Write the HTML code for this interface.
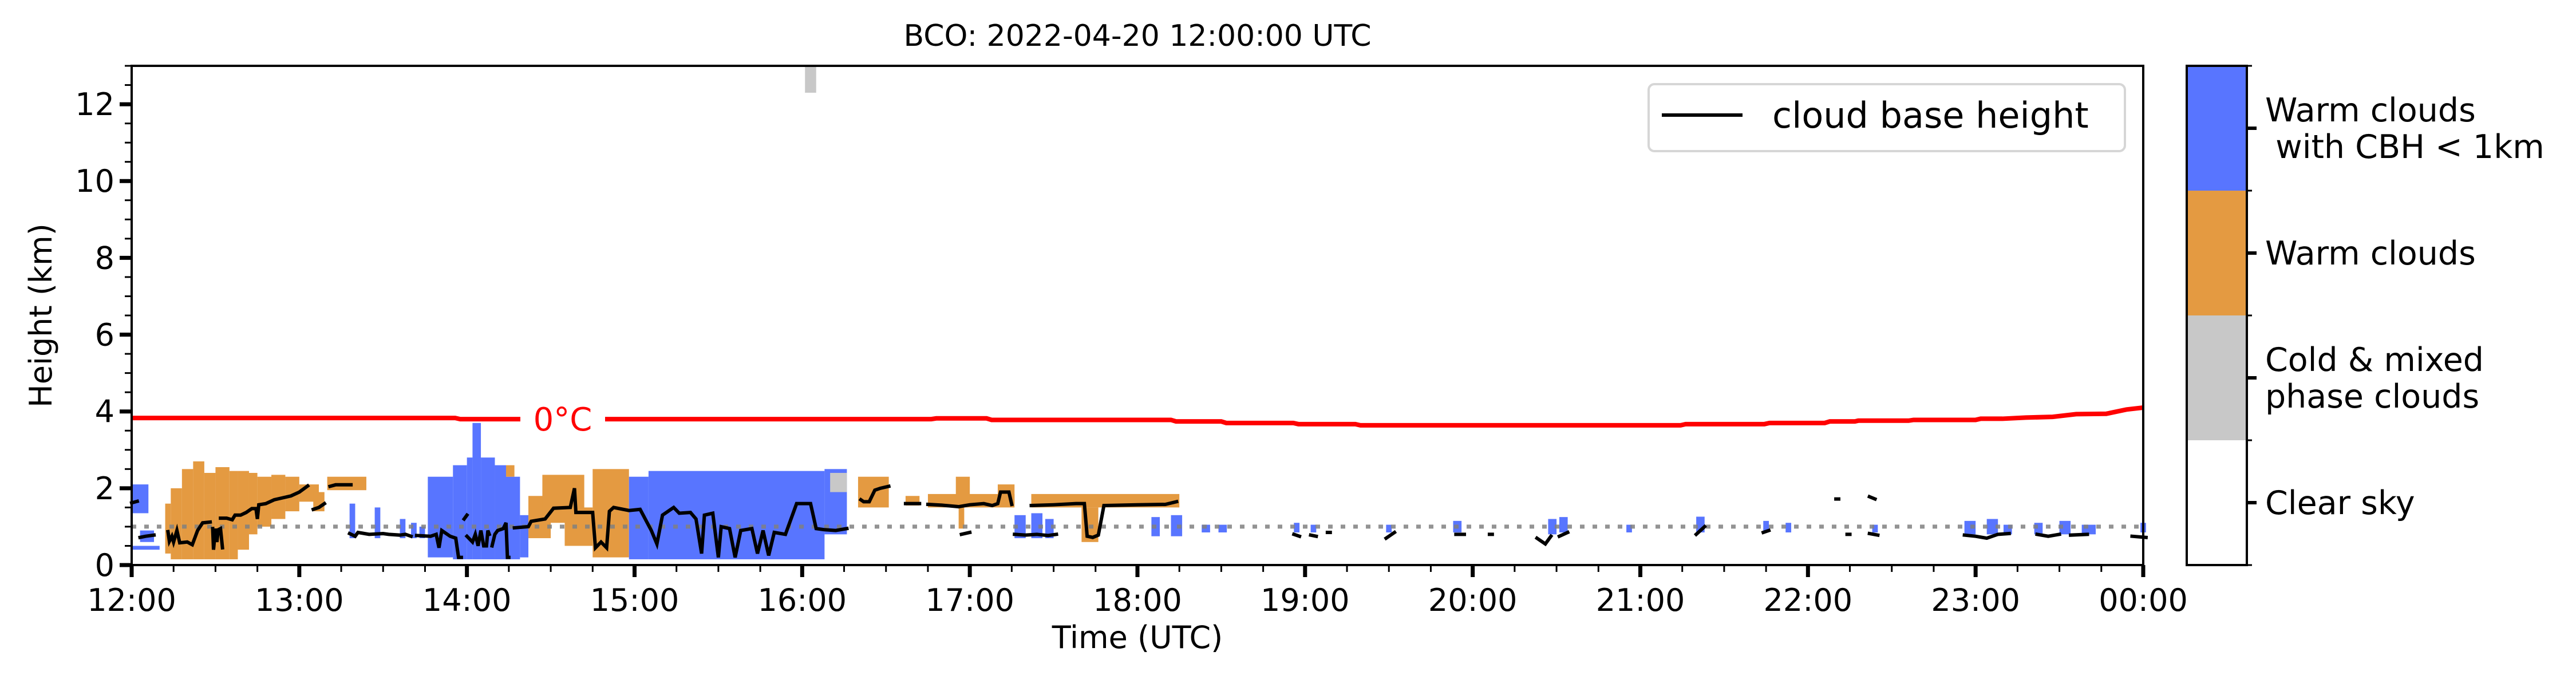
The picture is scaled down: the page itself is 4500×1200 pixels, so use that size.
<!DOCTYPE html>
<html><head><meta charset="utf-8"><title>BCO cloud classification</title>
<style>
html,body{margin:0;padding:0;background:#fff;}
svg{display:block;font-family:"DejaVu Sans","Liberation Sans",sans-serif;}
.pre{white-space:pre;}
</style></head>
<body>
<svg id="chart" width="4500" height="1200" viewBox="0 0 4500 1200" xmlns="http://www.w3.org/2000/svg">
<rect x="0" y="0" width="4500" height="1200" fill="#fff"/>
<text x="1987" y="80" font-size="52" text-anchor="middle">BCO: 2022-04-20 12:00:00 UTC</text>
<g id="plot"></g>
<g id="axes"></g>
<text x="90" y="551" font-size="54" text-anchor="middle" transform="rotate(-90 90 551)">Height (km)</text>
<text x="1987" y="1132" font-size="54" text-anchor="middle">Time (UTC)</text>
<g>
<rect x="2880" y="147" width="832" height="117" rx="10" fill="#fff" fill-opacity="0.8" stroke="#d6d6d6" stroke-width="4"/>
<line x1="2903" y1="201" x2="3044" y2="201" stroke="#000" stroke-width="6"/>
<text x="3096" y="223" font-size="62">cloud base height</text>
</g>
<g id="cbar"></g>
</svg>
<script>
// ---- data (time in minutes after 12:00 UTC, heights in km) ----
const cloudStart = [0,0,3,12,14,18,22,26,30,35,38,42,45,50,55,60,65,70,78,87,96,100,103,106,115,120,122,125,130,134,139,134,142,147,155,165,178,185,248,250,241,260,277,285,295,296,310,322,340,316,322,327,365,372,383,389,416,422,449,473,507,511,535,560,584,592,623,656,664,670,681,690,698,719];
const cloudEnd   = [6,10,8,14,18,22,26,30,35,38,42,45,50,55,60,67,69,84,80,89,98,102,105,115,120,122,125,130,134,139,142,137,150,162,165,178,185,248,256,256,245,271,282,316,300,298,316,375,346,320,326,330,368,376,386,392,418,424,451,476,510,514,537,563,586,594,625,660,668,673,684,694,703,721];
const cloudBase  = [1.35,0.4,0.6,0.3,0.15,0.15,0.15,0.15,0.15,0.15,0.4,0.8,1.0,1.2,1.4,1.65,1.4,1.95,0.7,0.7,0.7,0.7,0.7,0.2,0.15,0.15,0.15,0.15,0.15,0.15,0.2,2.3,0.7,1.1,0.5,0.2,0.15,0.15,0.8,1.9,12.3,1.5,1.55,1.5,1.7,0.95,1.6,1.5,0.6,0.7,0.7,0.7,0.75,0.75,0.85,0.85,0.85,0.85,0.85,0.85,0.8,0.85,0.85,0.85,0.85,0.85,0.85,0.8,0.8,0.8,0.8,0.8,0.8,0.85];
const cloudTop   = [2.1,0.5,0.9,1.6,2.0,2.5,2.7,2.4,2.55,2.45,2.45,2.4,2.3,2.35,2.3,2.1,1.9,2.3,1.6,1.5,1.2,1.1,1.0,2.3,2.6,2.8,3.7,2.8,2.6,2.3,1.3,2.6,1.8,2.35,1.5,2.5,2.3,2.45,2.5,2.4,13.0,2.3,1.8,1.85,2.3,1.5,2.1,1.85,1.5,1.3,1.35,1.2,1.25,1.3,1.05,1.05,1.1,1.05,1.05,1.15,1.2,1.25,1.05,1.26,1.15,1.1,1.05,1.15,1.2,1.05,1.1,1.15,1.05,1.1];
const cloudClass = ['b','b','b','o','o','o','o','o','o','o','o','o','o','o','o','o','o','o','b','b','b','b','b','b','b','b','b','b','b','b','b','o','o','o','o','o','b','b','b','g','g','o','o','o','o','o','o','o','o','b','b','b','b','b','b','b','b','b','b','b','b','b','b','b','b','b','b','b','b','b','b','b','b','b'];

const cbhTime = [0,2,null,3,5,8,null,13,13.5,14.4,15,16.2,17.2,19.9,21.7,23.6,25.4,28.1,null,29,29.3,30,30.5,31,31.8,32.5,null,
31.8,34,36,37,39,41,43,44.5,45,45.5,48,51,54,57,60,63,null,65,67,69,null,71,73,78.5,null,
78,80,81,85,90,92,96,98,100,null,102,107,109,110,111,114,116,117,118,null,119,120,null,
120,122,123,124,125,126,127,127.5,128,null,129,130,131,133,134,134.5,135,null,
137,142,143,148,151,157,158.5,159,165,166,168,170,171,172.5,178,182,186,188,190,194,196,200,202,204,205,208,210,211,214,216,218,222,224,226,228,230,234,238,243,245,248,252,256,null,
261,262,264,266,268,271,null,277,282,null,285,290,296,300,305,308,310,311,314,315,null,297,300,null,316,320,324,328,331,null,
322,330,338,341,342,344,346,348,360,370,374,null,
416,418,null,422,424,null,428,429,null,449,452,null,474,477,null,486,487,null,503,506,508,null,511,514,null,560,563,null,584,586,null,610,611,null,614,615,null,622,624,null,622,625,null,656,660,664,668,672,null,682,686,690,null,694,700,null,716,721];
const cbhHeight = [1.62,1.66,null,0.72,0.75,0.78,null,0.87,0.62,0.75,0.6,0.9,0.58,0.6,0.53,0.9,1.1,1.12,null,0.95,0.4,0.95,0.6,0.92,0.95,0.45,null,
1.22,1.22,1.18,1.3,1.3,1.37,1.47,1.47,1.2,1.57,1.6,1.7,1.75,1.8,1.9,2.06,null,1.45,1.5,1.6,null,2.05,2.09,2.09,null,
0.82,0.75,0.85,0.8,0.82,0.8,0.78,0.8,0.75,null,0.77,0.75,0.8,0.45,0.9,0.75,0.7,0.2,0.2,null,1.2,1.3,null,
0.75,0.6,0.8,0.5,0.9,0.5,0.5,0.9,0.8,null,0.5,0.8,0.9,0.95,1.1,0.2,0.2,null,
0.97,1.0,1.14,1.2,1.48,1.5,2.0,1.37,1.37,0.45,0.6,0.45,1.4,1.5,1.42,1.45,0.9,0.55,1.3,1.5,1.35,1.37,1.2,0.3,1.3,1.35,0.2,1.0,0.95,0.2,0.9,0.95,0.3,0.9,0.25,0.85,0.8,1.6,1.6,0.95,0.92,0.9,0.95,null,
1.7,1.65,1.65,1.95,2.0,2.05,null,1.6,1.6,null,1.58,1.56,1.52,1.57,1.6,1.55,1.6,1.9,1.9,1.58,null,0.8,0.85,null,0.8,0.78,0.8,0.77,0.8,null,
1.55,1.57,1.6,1.6,0.75,0.72,0.78,1.55,1.57,1.58,1.65,null,
0.8,0.75,null,0.78,0.75,null,0.85,0.85,null,0.7,0.85,null,0.8,0.8,null,0.8,0.8,null,0.7,0.55,0.75,null,0.75,0.85,null,0.8,1.0,null,0.85,0.9,null,1.72,1.72,null,0.8,0.8,null,1.78,1.72,null,0.82,0.78,null,0.78,0.75,0.7,0.8,0.82,null,0.8,0.75,0.8,null,0.78,0.8,null,0.75,0.72];

const freezeTime = [0,1.93,1.96,4.77,4.8,5.1,5.13,6.2,6.23,6.5,6.53,6.93,6.96,7.3,7.33,9.24,9.27,9.74,9.77,10.1,10.13,10.28,10.3,10.6,10.63,11.0,11.03,11.16,11.3,11.46,11.6,11.78,11.9,12];
const freezeHeight = [3.83,3.83,3.80,3.80,3.82,3.82,3.78,3.78,3.74,3.74,3.70,3.70,3.67,3.67,3.64,3.64,3.67,3.67,3.70,3.70,3.74,3.74,3.76,3.76,3.78,3.78,3.81,3.81,3.84,3.86,3.93,3.94,4.05,4.10];

const xTickLabels = ['12:00','13:00','14:00','15:00','16:00','17:00','18:00','19:00','20:00','21:00','22:00','23:00','00:00'];
const yTickValues = [0,2,4,6,8,10,12];
const cbarLabels = [['Clear sky'],['Cold & mixed','phase clouds'],['Warm clouds'],['Warm clouds',' with CBH < 1km']];
const cbarColors = ['#ffffff','#c8c8c8','#e49a41','#5875ff'];

// ---- axes ----
const X0=230, X1=3744, Y0=987, Y1=115, YMAX=13;
const xHour = h => X0 + h/12*(X1-X0);
const xMin = m => xHour(m/60);
const yKm = k => Y0 - k/YMAX*(Y0-Y1);
const NS='http://www.w3.org/2000/svg';
function mk(tag, attrs, parent){const e=document.createElementNS(NS,tag);for(const k in attrs)e.setAttribute(k,attrs[k]);parent.appendChild(e);return e;}
const plot=document.getElementById('plot'), axes=document.getElementById('axes'), cbar=document.getElementById('cbar');
const colorOf={b:'#5875ff',o:'#e49a41',g:'#c8c8c8'};

for(let i=0;i<cloudStart.length;i++){
  const r=mk('rect',{x:xMin(cloudStart[i]),y:yKm(cloudTop[i]),width:Math.max(2,xMin(cloudEnd[i])-xMin(cloudStart[i])),height:yKm(cloudBase[i])-yKm(cloudTop[i]),fill:colorOf[cloudClass[i]]},plot);
  
  
}
const dl=mk('line',{x1:X0,x2:X1,y1:yKm(1),y2:yKm(1),stroke:'#808080','stroke-width':7,'stroke-dasharray':'8 14','stroke-opacity':0.85},plot);


const labelGap=[909,1057];
const pts=[];
for(let i=0;i<freezeTime.length;i++){ pts.push(xHour(freezeTime[i])+','+yKm(freezeHeight[i])); }
const fr=mk('g',{},plot);


const clip=mk('clipPath',{id:'gapclip'},plot);
mk('rect',{x:X0,y:0,width:labelGap[0]-X0,height:1200},clip);
mk('rect',{x:labelGap[1],y:0,width:X1-labelGap[1],height:1200},clip);
const fp=mk('polyline',{points:pts.join(' '),fill:'none',stroke:'#ff0000','stroke-width':8,'clip-path':'url(#gapclip)'},fr);


const fl=mk('text',{x:(labelGap[0]+labelGap[1])/2,y:yKm(3.8)+20,'font-size':56,fill:'#ff0000','text-anchor':'middle'},plot);
fl.textContent='0°C';


let cur=[];
function flush(){ if(cur.length){ const pl=mk('polyline',{points:cur.join(' '),fill:'none',stroke:'#000','stroke-width':6,'stroke-linecap':'square'},plot);
  
   } cur=[]; }
for(let i=0;i<cbhTime.length;i++){
  if(cbhTime[i]===null){flush();continue;}
  cur.push(xMin(cbhTime[i])+','+yKm(cbhHeight[i]));
}
flush();

const fb=mk('rect',{x:X0,y:Y1,width:X1-X0,height:Y0-Y1,fill:'none',stroke:'#000','stroke-width':4},axes);


for(let q=0;q<=48;q++){
  const x=xHour(q/4), major=q%4===0;
  const t=mk('line',{x1:x,x2:x,y1:Y0,y2:Y0+(major?21:12),stroke:'#000','stroke-width':major?7:3},axes);
  
  
}
xTickLabels.forEach((lab,i)=>{
  const t=mk('text',{x:xHour(i),y:1067,'font-size':54,'text-anchor':'middle'},axes);
  t.textContent=lab;
  
  
});
for(let k=0;k<=26;k++){
  const y=yKm(k/2), major=k%4===0;
  const t=mk('line',{x1:X0-(major?21:12),x2:X0,y1:y,y2:y,stroke:'#000','stroke-width':major?7:3},axes);
  
  
}
yTickValues.forEach(v=>{
  const t=mk('text',{x:X0-30,y:yKm(v)+19,'font-size':54,'text-anchor':'end'},axes);
  t.textContent=String(v);
  
  
});

const CX0=3820, CX1=3925, bh=(Y0-Y1)/4;
cbarColors.forEach((c,i)=>{
  const r=mk('rect',{x:CX0,y:Y0-(i+1)*bh,width:CX1-CX0,height:bh,fill:c},cbar);
  
  
});
const cf=mk('rect',{x:CX0,y:Y1,width:CX1-CX0,height:Y0-Y1,fill:'none',stroke:'#000','stroke-width':4},cbar);


for(let i=0;i<=4;i++){
  const y=Y0-i*bh;
  const t=mk('line',{x1:CX1,x2:CX1+9,y1:y,y2:y,stroke:'#000','stroke-width':3},cbar);
  
  
}
cbarLabels.forEach((lines,i)=>{
  const yc=Y0-(i+0.5)*bh;
  const t=mk('line',{x1:CX1,x2:CX1+17,y1:yc,y2:yc,stroke:'#000','stroke-width':6},cbar);
  
  
  const lh=64, n=lines.length;
  lines.forEach((s,j)=>{
    const tx=mk('text',{x:3957,y:yc+20+(j-(n-1)/2)*lh,'font-size':57,'class':'pre'},cbar);
    tx.textContent=s.replace(/^ /,'\u00a0');
    
    
  });
});
</script>
</body></html>
